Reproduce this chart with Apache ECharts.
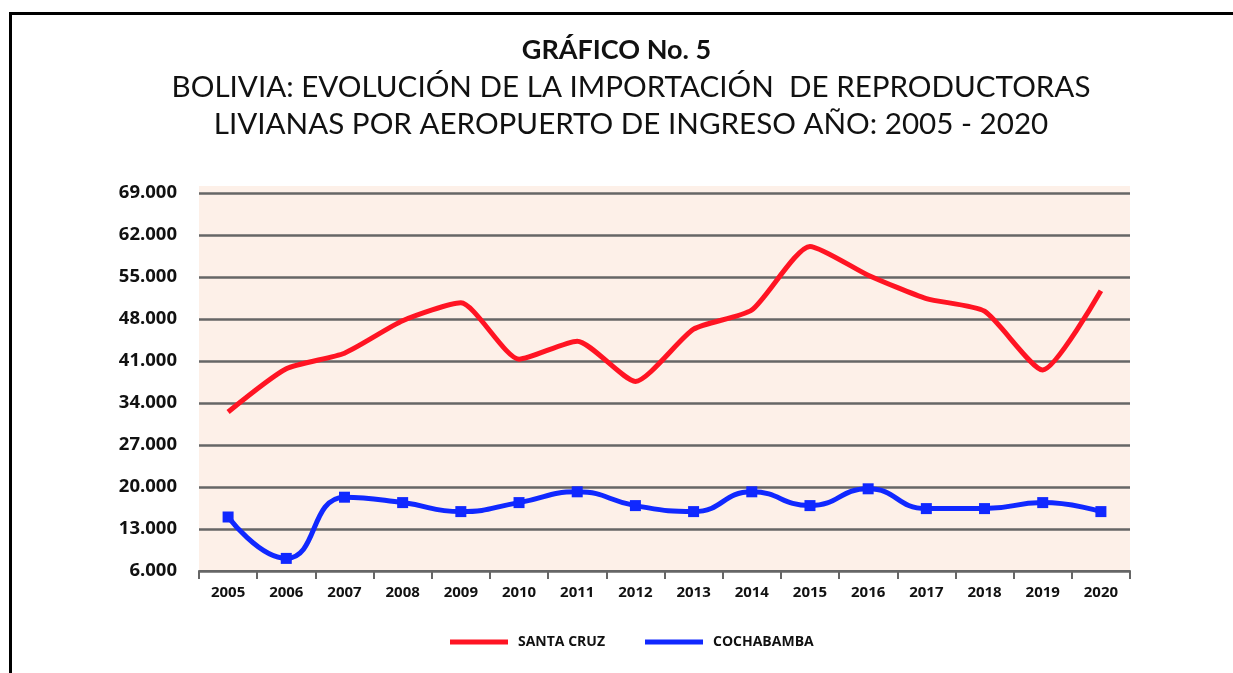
<!DOCTYPE html>
<html>
<head>
<meta charset="utf-8">
<script src="https://cdn.jsdelivr.net/npm/echarts@6/dist/echarts.min.js"></script>
<style>
html,body{margin:0;padding:0;background:#fff;}
#chart{width:1233px;height:673px;}
</style>
</head>
<body>
<div id="chart"></div>
<script>
// ---- Data ----
const years = ['2005','2006','2007','2008','2009','2010','2011','2012','2013','2014','2015','2016','2017','2018','2019','2020'];
const santaCruz = [32500, 39700, 42300, 47700, 50700, 41300, 44300, 37600, 46300, 49500, 60100, 55300, 51400, 49300, 39500, 52700];
const cochabamba = [15000, 8100, 18300, 17400, 15900, 17400, 19200, 16900, 15900, 19200, 16900, 19700, 16400, 16400, 17400, 15900];
const seriesNames = ['SANTA CRUZ', 'COCHABAMBA'];
const yMin = 6000, yMax = 69000, yStep = 7000;

const titleText = 'GRÁFICO No. 5';
const subtitleText = 'BOLIVIA: EVOLUCIÓN DE LA IMPORTACIÓN  DE REPRODUCTORAS\nLIVIANAS POR AEROPUERTO DE INGRESO AÑO: 2005 - 2020';

function fmt(v){ return String(v).replace(/\B(?=(\d{3})+(?!\d))/g, '.'); }

const chart = echarts.init(document.getElementById('chart'), null, {renderer:'canvas'});
const labelFont = '"Open Sans", "DejaVu Sans", sans-serif';
const titleFont = 'Lato, "Open Sans", sans-serif';

chart.setOption({
  animation: false,
  backgroundColor: '#ffffff',
  graphic: [
    { type: 'rect', z: -10, silent: true,
      shape: { x: 10.5, y: 13.5, width: 1400, height: 800 },
      style: { fill: null, stroke: '#000', lineWidth: 3 } },
    { type: 'rect', z: -5, silent: true,
      shape: { x: 199, y: 186, width: 931, height: 8 },
      style: { fill: '#fdf0e8' } }
  ],
  title: [
    { text: titleText, left: 'center', top: 32,
      textStyle: { fontFamily: titleFont, fontWeight: 'bold', fontSize: 27, color: '#111' } },
    { text: subtitleText, left: 626, textAlign: 'center', top: 64,
      textStyle: { fontFamily: titleFont, fontWeight: 'normal', fontSize: 29.6, lineHeight: 37, color: '#111' } }
  ],
  legend: {
    data: seriesNames,
    top: 630, left: 445,
    icon: 'rect', itemWidth: 58, itemHeight: 5, itemGap: 40,
    textStyle: { fontFamily: labelFont, fontWeight: 'bold', fontSize: 14, color: '#111', padding: [0,0,0,5] }
  },
  grid: {
    left: 199, right: 103, top: 193, bottom: 102,
    show: true, backgroundColor: '#fdf0e8', borderWidth: 0
  },
  xAxis: {
    type: 'category', data: years, boundaryGap: true,
    axisLine: { lineStyle: { color: '#666', width: 2 } },
    axisTick: { show: true, length: 8, lineStyle: { color: '#666', width: 2 } },
    axisLabel: { fontFamily: labelFont, fontWeight: 'bold', fontSize: 15, color: '#111', margin: 14 },
    splitLine: { show: false }
  },
  yAxis: {
    type: 'value', min: yMin, max: yMax, interval: yStep,
    axisLine: { show: false }, axisTick: { show: false },
    axisLabel: { fontFamily: labelFont, fontWeight: 'bold', fontSize: 18.5, color: '#111', margin: 22, formatter: fmt },
    splitLine: { show: true, lineStyle: { color: '#666', width: 2.5 } }
  },
  series: [
    { name: seriesNames[0], type: 'line', data: santaCruz, smooth: 0.2,
      showSymbol: false, symbol: 'none',
      lineStyle: { color: '#ff1423', width: 5 }, itemStyle: { color: '#ff1423' } },
    { name: seriesNames[1], type: 'line', data: cochabamba, smooth: 0.5,
      symbol: 'rect', symbolSize: 11, showSymbol: true,
      lineStyle: { color: '#1028ff', width: 5 }, itemStyle: { color: '#1028ff' } }
  ]
});
</script>
</body>
</html>
